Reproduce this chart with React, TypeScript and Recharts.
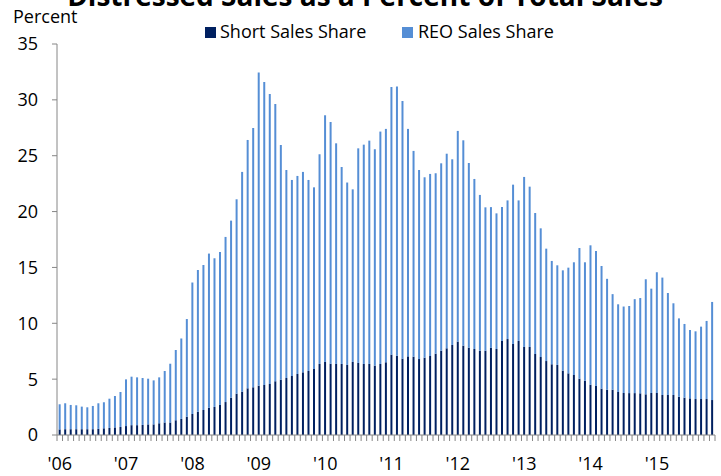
import { Bar, BarChart, XAxis, YAxis } from "recharts";

// Distressed sales share of total sales, monthly Jan 2006 - Nov 2015 (percent)

const years = ["06", "07", "08", "09", "10", "11", "12", "13", "14", "15"];
const months = ["01", "02", "03", "04", "05", "06", "07", "08", "09", "10", "11", "12"];
const monthCount = 119;

const categories = years.flatMap((y) => months.map((m) => `20${y}-${m}`)).slice(0, monthCount);

const shortShare = [
  0.5, 0.52, 0.52, 0.52, 0.52, 0.52, 0.52, 0.55, 0.6, 0.63, 0.68, 0.72,
  0.8, 0.88, 0.88, 0.9, 0.95, 0.95, 1.05, 1.12, 1.12, 1.32, 1.44, 1.64,
  1.88, 2.08, 2.24, 2.44, 2.51, 2.69, 2.95, 3.34, 3.7, 3.88, 4.18, 4.27,
  4.42, 4.48, 4.57, 4.81, 4.95, 5.1, 5.28, 5.46, 5.61, 5.73, 5.91, 6.36,
  6.54, 6.38, 6.36, 6.36, 6.27, 6.54, 6.45, 6.36, 6.36, 6.21, 6.36, 6.51,
  7.19, 7.1, 6.83, 7.04, 7.01, 6.8, 6.92, 7.07, 7.28, 7.55, 7.76, 8.06,
  8.36, 8.0, 7.82, 7.7, 7.54, 7.54, 7.8, 7.7, 8.42, 8.59, 8.15, 8.42,
  7.88, 7.88, 7.25, 6.98, 6.62, 6.33, 6.27, 5.76, 5.52, 5.37, 5.04, 4.86,
  4.5, 4.39, 4.15, 4.05, 4.05, 3.85, 3.76, 3.75, 3.75, 3.73, 3.64, 3.76,
  3.76, 3.58, 3.58, 3.58, 3.43, 3.34, 3.28, 3.22, 3.22, 3.22, 3.13,
];

const reoShare = [
  2.25, 2.32, 2.17, 2.14, 2.02, 1.96, 2.08, 2.29, 2.33, 2.62, 2.81, 3.13,
  4.18, 4.34, 4.28, 4.2, 4.09, 3.94, 4.11, 4.61, 5.26, 6.29, 7.2, 8.74,
  11.77, 12.69, 12.98, 13.8, 13.31, 13.69, 14.78, 15.85, 17.4, 19.67, 22.23, 23.21,
  28.02, 27.12, 25.96, 24.82, 21.01, 18.62, 17.55, 17.73, 17.94, 17.1, 16.26, 18.77,
  22.08, 21.64, 19.75, 17.63, 16.33, 15.45, 19.21, 19.63, 19.99, 19.37, 20.8, 20.89,
  23.96, 24.1, 23.07, 20.36, 18.42, 16.92, 16.15, 16.3, 16.15, 16.77, 17.42, 16.62,
  18.86, 18.38, 16.53, 15.22, 13.95, 12.84, 12.6, 12.14, 11.99, 12.41, 14.26, 12.58,
  15.22, 14.35, 12.62, 11.52, 10.06, 9.25, 8.92, 8.98, 9.46, 10.09, 11.7, 10.6,
  12.48, 12.08, 10.98, 9.93, 8.56, 7.85, 7.74, 7.8, 8.41, 8.53, 10.3, 9.34,
  10.81, 10.51, 9.13, 8.21, 7.01, 6.6, 6.12, 6.06, 6.48, 6.99, 8.78,
];

const yTicks = [0, 5, 10, 15, 20, 25, 30, 35];

const data = categories.map((month, i) => ({
  month,
  short: shortShare[i],
  reo: reoShare[i],
}));

const FONT = "'Open Sans', 'Noto Sans', sans-serif";
const SHORT_COLOR = "#002060";
const REO_COLOR = "#558ED5";
const AXIS_COLOR = "#868686";

function MonthTick(props: any) {
  const { x, y, payload, index } = props;
  const half = payload?.offset ?? 2.77;
  const value: string = payload?.value ?? "";
  const isJan = value.endsWith("-01");
  const top = y - 6;
  return (
    <g>
      <line x1={x - half} x2={x - half} y1={top} y2={top + 6} stroke={AXIS_COLOR} />
      {index === categories.length - 1 && (
        <line x1={x + half} x2={x + half} y1={top} y2={top + 6} stroke={AXIS_COLOR} />
      )}
      {isJan && (
        <text x={x} y={top + 35} textAnchor="middle" fontSize={18} fill="#000" fontFamily={FONT}>
          {"'" + value.slice(2, 4)}
        </text>
      )}
    </g>
  );
}

export default function App() {
  return (
    <div
      style={{
        position: "absolute",
        left: 0,
        top: 0,
        width: 721,
        height: 476,
        overflow: "hidden",
        background: "#fff",
        fontFamily: FONT,
      }}
    >
      <BarChart
        width={721}
        height={476}
        data={data}
        margin={{ top: 44, right: 6, bottom: 0, left: 0 }}
        barCategoryGap="30%"
      >
        <XAxis
          dataKey="month"
          interval={0}
          height={41}
          stroke={AXIS_COLOR}
          tickLine={false}
          tickSize={6}
          tickMargin={0}
          tick={<MonthTick />}
        />
        <YAxis
          width={57}
          domain={[0, 35]}
          ticks={yTicks}
          stroke={AXIS_COLOR}
          tickSize={5}
          tickMargin={14}
          tick={{ fill: "#000", fontSize: 18, fontFamily: FONT }}
        />
        <Bar dataKey="short" stackId="a" fill={SHORT_COLOR} isAnimationActive={false} />
        <Bar dataKey="reo" stackId="a" fill={REO_COLOR} isAnimationActive={false} />
      </BarChart>

      <svg
        width={721}
        height={476}
        style={{ position: "absolute", left: 0, top: 0, pointerEvents: "none" }}
      >
        <text x={365} y={6} textAnchor="middle" fontSize={28} fontWeight={700} fill="#000" fontFamily={FONT}>
          Distressed Sales as a Percent of Total Sales
        </text>
        <text x={13} y={23} fontSize={18} fill="#000" fontFamily={FONT}>
          Percent
        </text>
        <rect x={205} y={27} width={11} height={11} fill={SHORT_COLOR} />
        <text x={220} y={37.5} fontSize={18} fill="#000" fontFamily={FONT}>
          Short Sales Share
        </text>
        <rect x={402} y={27} width={11} height={11} fill={REO_COLOR} />
        <text x={418} y={37.5} fontSize={18} fill="#000" fontFamily={FONT}>
          REO Sales Share
        </text>
      </svg>
    </div>
  );
}
